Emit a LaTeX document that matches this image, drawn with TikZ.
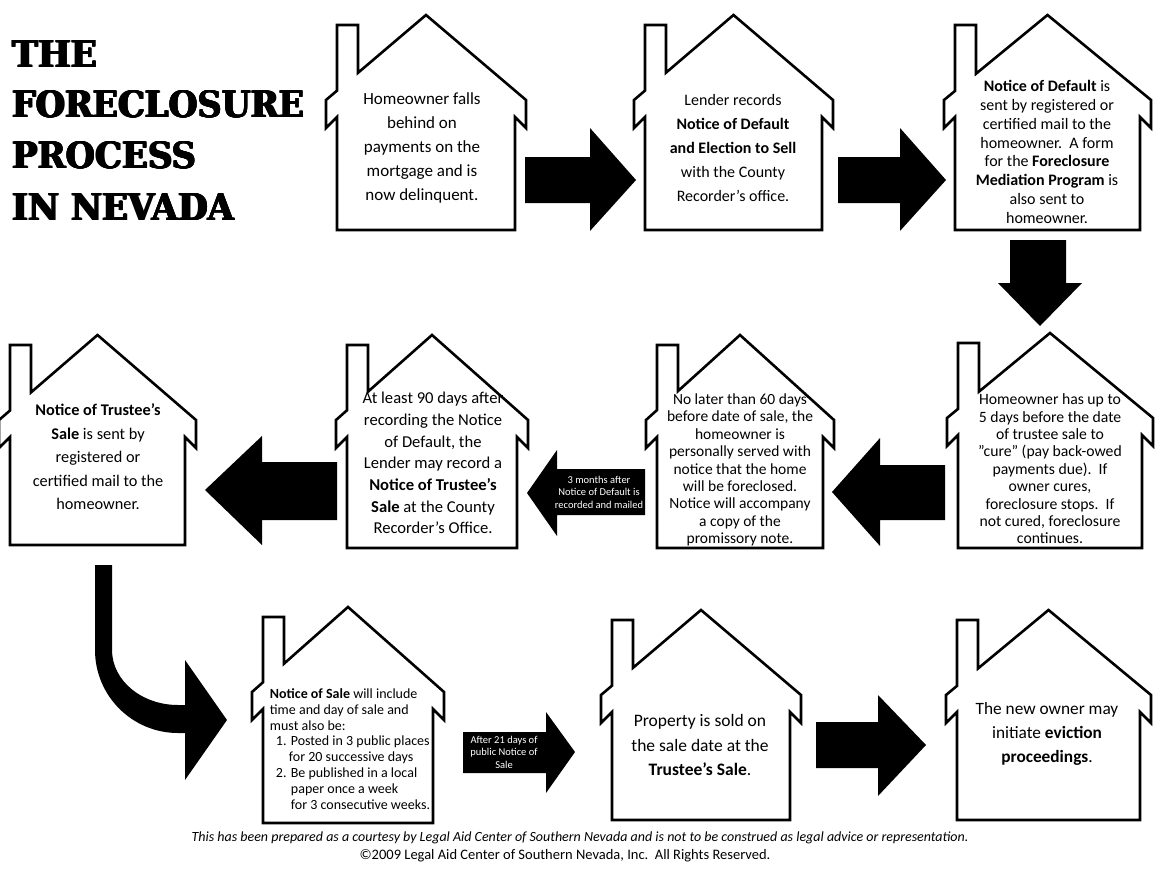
\documentclass[tikz,border=0pt]{standalone}
\usepackage{fontspec}
\setmainfont{Carlito}
\newfontfamily\titlefont{DejaVu Serif}
\newcommand\drawhouse[5]{%
 \pgfmathsetmacro\hx{(#2+#3)/2}%
 \pgfmathsetmacro\hw{(#3-#2)/2+11}%
 \pgfmathsetmacro\hs{85/\hw}%
 \pgfmathsetmacro\cy{#4+\hs*(\hx-#2-21)}%
 \pgfmathsetmacro\ly{#4+\hs*(\hx-#2)}%
 \draw[housestyle] (\hx,#4) -- (#3+11,#4+85) -- (#3+11,#4+113) -- (#3,#4+102) -- (#3,#5) -- (#2,#5) -- (#2,#4+102) -- (#2-11,#4+113) -- (#2-11,#4+85) -- (#2,\ly) -- (#2,#4+10) -- (#2+21,#4+10) -- (#2+21,\cy) -- cycle;
 \coordinate (#1) at (\hx,#4);}
\newcommand\titleline[5]{%
 \foreach \dx/\dy [count=\k] in {0/0,0.7/0,0/0.7,0.7/0.7,-0.4/0.35,1.1/0.35}{
  \node[anchor=base west,inner sep=0] (#1\k) at (#2+\dx,#3+\dy) {\resizebox{#4pt}{27pt}{\titlefont\bfseries #5}};}}
\newcommand\dq{\symbol{34}}
\begin{document}
\begin{tikzpicture}[x=1pt,y=-1pt,
 housestyle/.style={draw=black,line width=2.6pt,fill=white,line join=miter},
 txt/.style={align=center,inner sep=0pt,text=black},
 arr/.style={fill=black,draw=none},
 wtxt/.style={align=center,inner sep=0pt,text=white,font=\fontsize{10.5}{12.5}\selectfont}]
\useasboundingbox (0,0) rectangle (1170,889);
\fill[white] (0,0) rectangle (1170,889);
% title
\titleline{ta}{12}{67}{85}{THE}
\titleline{tb}{12}{117}{292}{FORECLOSURE}
\titleline{tc}{12}{168}{184}{PROCESS}
\titleline{td}{12}{220}{222}{IN NEVADA}
% houses
\drawhouse{h1}{337}{515}{15}{230}
\drawhouse{h2}{645}{822}{15}{230}
\drawhouse{h3}{955}{1140}{15}{230}
\drawhouse{h4}{958}{1142}{333}{548}
\drawhouse{h5}{657}{823}{335}{548}
\drawhouse{h6}{347}{517}{335}{548}
\drawhouse{h7}{10}{185}{335}{545}
\drawhouse{h8}{263}{433}{607}{823}
\drawhouse{h9}{612}{790}{610}{820}
\drawhouse{h10}{957}{1140}{610}{820}
% texts
\node[txt,font=\fontsize{17}{24}\selectfont] (n1) at (422,148) {Homeowner falls\\behind on\\payments on the\\mortgage and is\\now delinquent.};
\node[txt,font=\fontsize{16}{24}\selectfont] (n2) at (733,148) {Lender records\\\textbf{Notice of Default}\\\textbf{and Election to Sell}\\with the County\\Recorder’s office.};
\node[txt,font=\fontsize{16}{18.8}\selectfont] (n3) at (1047,152) {\textbf{Notice of Default} is\\sent by registered or\\certified mail to the\\homeowner.\ \ A form\\for the \textbf{Foreclosure}\\\textbf{Mediation Program} is\\also sent to\\homeowner.};
\node[txt,font=\fontsize{15.7}{17.4}\selectfont] (n4) at (1050,469) {Homeowner has up to\\5 days before the date\\of trustee sale to\\\dq cure\dq\ (pay back-owed\\payments due).\ \ If\\owner cures,\\foreclosure stops.\ \ If\\not cured, foreclosure\\continues.};
\node[txt,font=\fontsize{15.5}{17.4}\selectfont] (n5) at (740,470) {No later than 60 days\\before date of sale, the\\homeowner is\\personally served with\\notice that the home\\will be foreclosed.\\Notice will accompany\\a copy of the\\promissory note.};
\node[txt,font=\fontsize{16.6}{21.7}\selectfont] (n6) at (433,463) {At least 90 days after\\recording the Notice\\of Default, the\\Lender may record a\\\textbf{Notice of Trustee’s}\\\textbf{Sale} at the County\\Recorder’s Office.};
\node[txt,font=\fontsize{16.3}{23.5}\selectfont] (n7) at (98,457) {\textbf{Notice of Trustee’s}\\\textbf{Sale} is sent by\\registered or\\certified mail to the\\homeowner.};
\node[txt,font=\fontsize{14}{15.8}\selectfont,align=left] (n8) at (350,749) {\textbf{Notice of Sale} will include\\time and day of sale and\\must also be:\\\hspace*{6pt}1. Posted in 3 public places\\\hspace*{19pt}for 20 successive days\\\hspace*{6pt}2. Be published in a local\\\hspace*{21pt}paper once a week\\\hspace*{21pt}for 3 consecutive weeks.};
\node[txt,font=\fontsize{17.5}{24.5}\selectfont] (n9) at (700,745) {Property is sold on\\the sale date at the\\\textbf{Trustee’s Sale}.};
\node[txt,font=\fontsize{17.3}{24}\selectfont] (n10) at (1047,734) {The new owner may\\initiate \textbf{eviction}\\\textbf{proceedings}.};
% arrows row 1
\fill[arr] (525,157) -- (590,157) -- (590,128) -- (636,180) -- (590,231) -- (590,203) -- (525,203) -- cycle;
\fill[arr] (838,157) -- (900,157) -- (900,128) -- (946,180) -- (900,231) -- (900,203) -- (838,203) -- cycle;
% down arrow
\fill[arr] (1010,240) -- (1066,240) -- (1066,283) -- (1082,283) -- (1040,326) -- (998,283) -- (1010,283) -- cycle;
% row 2 arrows
\fill[arr] (945,465) -- (880,465) -- (880,438) -- (832,492) -- (880,546) -- (880,520) -- (945,520) -- cycle;
\fill[arr] (645,469) -- (557,469) -- (557,450) -- (527,493) -- (557,536) -- (557,515) -- (645,515) -- cycle;
\node[wtxt] (l1) at (599,492) {3 months after\\Notice of Default is\\recorded and mailed};
\fill[arr] (337,462) -- (262,462) -- (262,436) -- (205,490) -- (262,545) -- (262,520) -- (337,520) -- cycle;
% curved arrow
\fill[arr] (95,565) -- (95,650) arc[start angle=180,end angle=90,radius=83] -- (185,733) -- (185,780) -- (227,720) -- (185,660) -- (185,705) -- (178,705) arc[start angle=90,end angle=180,x radius=66,y radius=55] -- (112,565) -- cycle;
% row 3 arrows
\fill[arr] (463,732) -- (546,732) -- (546,712) -- (575,752) -- (546,793) -- (546,773) -- (463,773) -- cycle;
\node[wtxt] (l2) at (504,752) {After 21 days of\\public Notice of\\Sale};
\fill[arr] (816,722) -- (878,722) -- (878,695) -- (926,745) -- (878,796) -- (878,768) -- (816,768) -- cycle;
% footer
\node[txt,font=\fontsize{14}{16}\selectfont\itshape] (f1) at (580,838) {This has been prepared as a courtesy by Legal Aid Center of Southern Nevada and is not to be construed as legal advice or representation.};
\node[txt,font=\fontsize{14.5}{16}\selectfont] (f2) at (565,856) {©2009 Legal Aid Center of Southern Nevada, Inc.\ \ All Rights Reserved.};
\end{tikzpicture}
\end{document}
